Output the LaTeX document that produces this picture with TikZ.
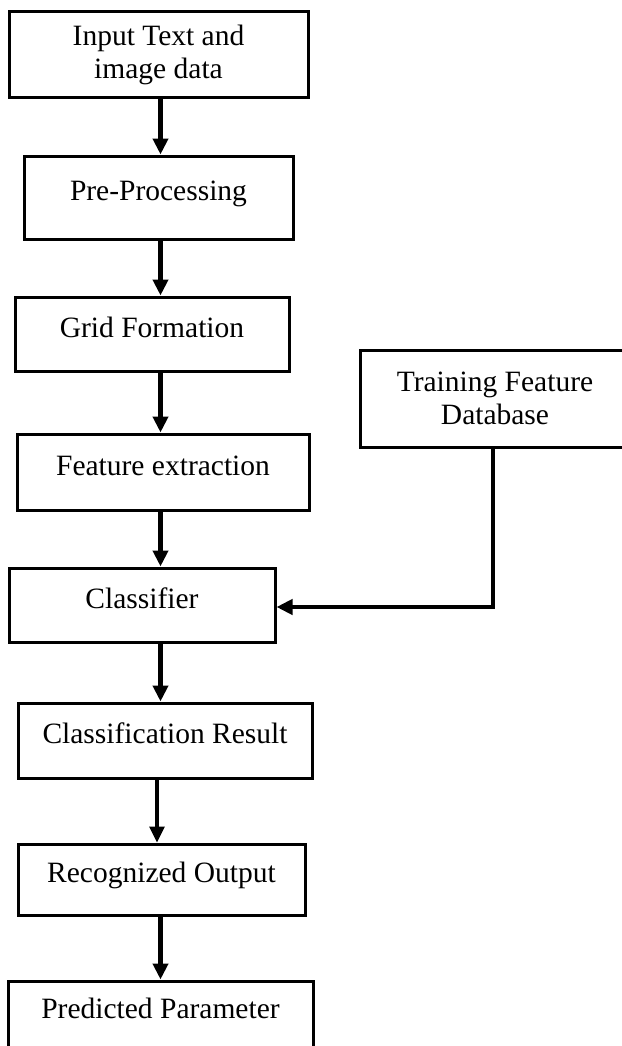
\documentclass[tikz,border=0pt]{standalone}
\usepackage{fontspec}
\setmainfont{Liberation Serif}
\usepackage{tikz}
\usetikzlibrary{arrows.meta}
\tikzset{box style/.style={
		draw=black,
		line width=3pt,
		fill=white,
		text=black,
		rectangle,
		inner sep=0pt,
		align=center,
		font=\fontsize{29.5}{33}\selectfont,
	},
	single style/.style={
		box style,
		text height=20pt,
		text depth=14pt,
	},
	arrow style/.style={
		draw=black,
		line width=#1,
		-{Triangle[length=16pt,width=15pt]}
	},
	arrow style/.default=4.6pt
}

\begin{document}
\begin{tikzpicture}[x=1pt,y=-1pt]
	\useasboundingbox (0,0) rectangle (621,1046);
	\coordinate (spine) at (160.5,0);

	\node[box style, minimum width=299pt, minimum height=86pt] (Input) at (158.5,55) {Input Text and\\image data};
	\node[single style, minimum width=269pt, minimum height=83pt] (Pre) at (158.5,197.5) {Pre-Processing};
	\node[single style, minimum width=274pt, minimum height=74pt] (Grid) at (152,334) {Grid Formation};
	\node[single style, minimum width=292pt, minimum height=76pt] (Feature) at (163,472) {Feature extraction};
	\node[single style, minimum width=266pt, minimum height=74pt] (Classifier) at (142,605) {Classifier};
	\node[single style, minimum width=294pt, minimum height=75pt] (Result) at (165,740.5) {Classification Result};
	\node[single style, minimum width=287pt, minimum height=71pt] (Output) at (161.5,879.5) {Recognized Output};
	\node[single style, minimum width=305pt, minimum height=69pt] (Predicted) at (160.5,1015.5) {Predicted Parameter};

	\node[box style, minimum width=270pt, minimum height=97pt] (Training) at (495,398.5) {Training Feature\\Database};

	\draw[arrow style] (Input.south -| spine) -- (Pre.north -| spine);
	\draw[arrow style] (Pre.south -| spine) -- (Grid.north -| spine);
	\draw[arrow style] (Grid.south -| spine) -- (Feature.north -| spine);
	\draw[arrow style] (Feature.south -| spine) -- (Classifier.north -| spine);
	\draw[arrow style] (Classifier.south -| spine) -- (Result.north -| spine);
	\draw[arrow style=3.2pt] ([xshift=-3.5pt]Result.south -| spine) -- ([xshift=-3.5pt]Output.north -| spine);
	\draw[arrow style] (Output.south -| spine) -- (Predicted.north -| spine);

	\draw[arrow style=4pt] ([xshift=-2pt]Training.south) |- ([yshift=-2pt]Classifier.east);
\end{tikzpicture}
\end{document}
